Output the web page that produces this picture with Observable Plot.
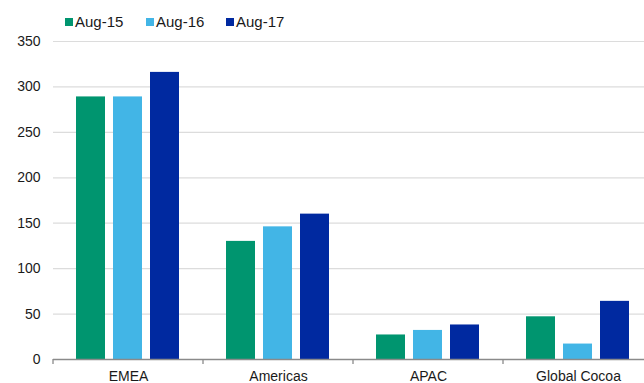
<!DOCTYPE html>
<html>
<head>
<meta charset="utf-8">
<script src="https://cdn.jsdelivr.net/npm/d3@7"></script>
<script src="https://cdn.jsdelivr.net/npm/@observablehq/plot@0.6"></script>
<style>
  html, body { margin: 0; padding: 0; background: #fff; overflow: hidden; width: 644px; height: 383px; }
  body { font-family: "Liberation Sans", Arial, Helvetica, sans-serif; }
  #legend { position: relative; height: 32px; width: 644px; font-size: 15px; color: #1a1a1a; }
  #legend .item { position: absolute; top: 13px; display: flex; align-items: center; white-space: nowrap; line-height: 18px; }
  #legend .sw { width: 8px; height: 8px; margin-right: 2px; display: inline-block; }
  #chart svg { overflow: hidden; display: block; }
</style>
</head>
<body>
<div id="legend"></div>
<div id="chart"></div>
<script>
const categories = ["EMEA", "Americas", "APAC", "Global Cocoa"];
const seriesNames = ["Aug-15", "Aug-16", "Aug-17"];
const aug15 = [289, 130, 27, 47];
const aug16 = [289, 146, 32, 17];
const aug17 = [316, 160, 38, 64];
const colors = ["#00956f", "#42b5e6", "#0029a0"];
const yTicks = [0, 50, 100, 150, 200, 250, 300, 350];

const seriesValues = [aug15, aug16, aug17];
const data = [];
categories.forEach((c, i) => {
  seriesNames.forEach((s, j) => data.push({category: c, series: s, value: seriesValues[j][i]}));
});

// Legend (HTML, above the SVG)
const legend = document.getElementById("legend");
const legendLeft = [65, 146, 226];
seriesNames.forEach((s, j) => {
  const it = document.createElement("div");
  it.className = "item";
  it.style.left = legendLeft[j] + "px";
  it.innerHTML = `<span class="sw" style="background:${colors[j]}"></span><span>${s}</span>`;
  legend.appendChild(it);
});

const plot = Plot.plot({
  width: 644,
  height: 351,
  marginTop: 9,
  marginBottom: 24,
  marginLeft: 51,
  marginRight: -10,
  style: {fontFamily: '"Liberation Sans", Arial, Helvetica, sans-serif', fontSize: "14px", color: "#1a1a1a", background: "#fff"},
  fx: {domain: categories, padding: 0, label: null},
  x: {domain: seriesNames, paddingInner: 0.21, paddingOuter: 0.61, axis: null},
  y: {domain: [0, 350], axis: null},
  color: {domain: seriesNames, range: colors},
  marks: [
    Plot.gridY(yTicks, {stroke: "#dcdcdc", strokeOpacity: 1, strokeWidth: 1.2}),
    Plot.barY(data, {fx: "category", x: "series", y: "value", fill: "series"}),
    Plot.ruleY([0], {stroke: "#8a8a8a", strokeWidth: 1.3}),
    Plot.axisY(yTicks, {tickSize: 0, tickPadding: 13, fontSize: 14, label: null}),
    Plot.axisFx({tickSize: 0, tickPadding: 12, fontSize: 14, label: null, anchor: "bottom"})
  ]
});
document.getElementById("chart").appendChild(plot);

// Category separator ticks at the band boundaries, from the library's fx scale
const fx = plot.scale("fx");
const y = plot.scale("y");
const y0 = y.apply(0);
const g = d3.select(plot).append("g").attr("stroke", "#8a8a8a").attr("stroke-width", 1.3);
categories.forEach(c => {
  const xb = fx.apply(c);
  g.append("line").attr("x1", xb).attr("x2", xb).attr("y1", y0).attr("y2", y0 + 5);
});
</script>
</body>
</html>
